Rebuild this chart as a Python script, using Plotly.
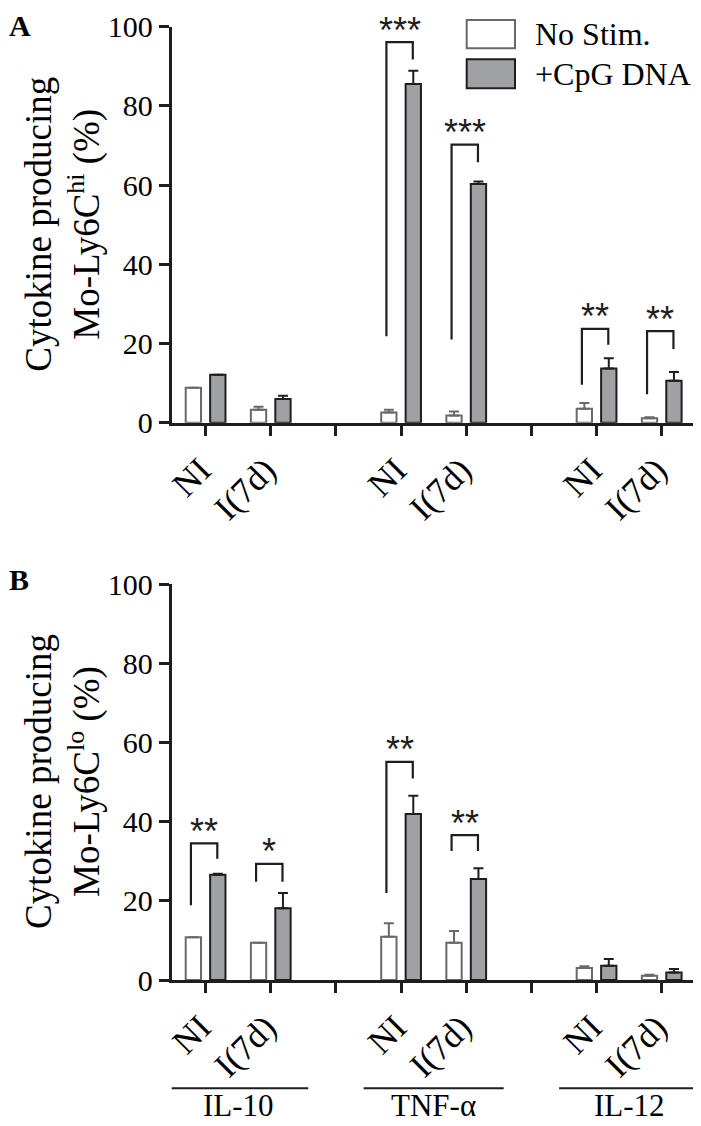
import plotly.graph_objects as go

# ---------------- data ----------------
groups = ["IL-10", "TNF-α", "IL-12"]
conditions = ["NI", "I(7d)"]
series_names = ["No Stim.", "+CpG DNA"]

# Panel A: Mo-Ly6C hi (order: IL-10 NI, IL-10 I(7d), TNF NI, TNF I(7d), IL-12 NI, IL-12 I(7d))
a_nostim = [8.8, 3.3, 2.6, 1.8, 3.5, 1.1]
a_nostim_err = [None, 0.7, 0.7, 1.0, 1.5, 0.3]
a_cpg = [12.1, 6.0, 85.5, 60.3, 13.7, 10.6]
a_cpg_err = [None, 0.8, 3.4, 0.6, 2.6, 2.2]

# Panel B: Mo-Ly6C lo
b_nostim = [10.8, 9.4, 10.9, 9.4, 3.0, 1.1]
b_nostim_err = [None, None, 3.4, 3.0, 0.5, 0.2]
b_cpg = [26.6, 18.1, 41.9, 25.5, 3.6, 1.9]
b_cpg_err = [0.2, 3.9, 4.6, 2.7, 1.7, 0.9]

y_ticks = [0, 20, 40, 60, 80, 100]

# significance: (group idx, condition idx, stars, left-leg bottom, top, right-leg bottom)
sig_a = [(1, 0, "***", 21.8, 96.1, 91.7), (1, 1, "***", 21.0, 70.2, 65.8),
         (2, 0, "**", 9.6, 23.7, 19.7), (2, 1, "**", 7.2, 23.1, 18.6)]
sig_b = [(0, 0, "**", 18.9, 34.5, 30.6), (0, 1, "*", 24.8, 29.3, 24.8),
         (1, 0, "**", 22.0, 55.1, 50.9), (1, 1, "**", 32.6, 36.6, 32.6)]

# ---------------- layout helpers ----------------
W, H = 701, 1126
PAGE_OFF = 8  # default page margin of the html body
SERIF = "Liberation Serif, Times New Roman, serif"
SANS = "Liberation Sans, Arial, sans-serif"
GRAY_FILL = "rgb(160,161,165)"
DARK = "rgb(30,30,30)"
WHITE_EDGE = "rgb(105,105,105)"


def px_x(p):
    return (p - PAGE_OFF) / W


def px_y(p):
    return 1 - (p - PAGE_OFF) / H


slots = [g * 3 + c + 1 for g in range(len(groups)) for c in range(len(conditions))]
slot_labels = [conditions[c] for g in range(len(groups)) for c in range(len(conditions))]
gap_ticks = [g * 3 + 3 for g in range(len(groups) - 1)]

BAR_W = 0.235
OFF_WHITE = -0.305
OFF_GRAY = 0.07
BR_L, BR_R = -0.225, 0.18

fig = go.Figure()

panels = [
    ("x", "y", a_nostim, a_nostim_err, a_cpg, a_cpg_err),
    ("x2", "y2", b_nostim, b_nostim_err, b_cpg, b_cpg_err),
]

for xa, ya, ns, nse, cp, cpe in panels:
    fig.add_trace(go.Bar(
        x=slots, y=ns, xaxis=xa, yaxis=ya, name=series_names[0], showlegend=False,
        width=BAR_W, offset=OFF_WHITE,
        marker=dict(color="white", line=dict(color=WHITE_EDGE, width=2)),
        error_y=dict(type="data", array=list(nse),
                     arrayminus=[0] * len(ns), symmetric=False,
                     color=WHITE_EDGE, thickness=2, width=5),
    ))
    fig.add_trace(go.Bar(
        x=slots, y=cp, xaxis=xa, yaxis=ya, name=series_names[1], showlegend=False,
        width=BAR_W, offset=OFF_GRAY,
        marker=dict(color=GRAY_FILL, line=dict(color=DARK, width=2)),
        error_y=dict(type="data", array=list(cpe),
                     arrayminus=[0] * len(cp), symmetric=False,
                     color=DARK, thickness=2, width=5),
    ))

shapes = []
annotations = []

for xa, ya, sig in [("x", "y", sig_a), ("x2", "y2", sig_b)]:
    for g, c, lab, lb, top, rb in sig:
        s = g * 3 + c + 1
        xl, xr = s + BR_L, s + BR_R
        shapes.append(dict(type="path", xref=xa, yref=ya,
                           path=f"M {xl},{lb} L {xl},{top} L {xr},{top} L {xr},{rb}",
                           line=dict(color=DARK, width=2.2)))
        annotations.append(dict(x=(xl + xr) / 2, y=top, xref=xa, yref=ya, text=lab,
                                showarrow=False, yanchor="middle", yshift=12,
                                font=dict(family=SANS, size=36, color=DARK)))

# group labels under panel B
for g, name in enumerate(groups):
    cx = g * 3 + 1.5
    shapes.append(dict(type="line", xref="x2", yref="paper",
                       x0=cx - 1.075, x1=cx + 1.075, y0=px_y(1088.3), y1=px_y(1088.3),
                       line=dict(color=DARK, width=2)))
    annotations.append(dict(x=cx, y=px_y(1125), xref="x2", yref="paper", text=name,
                            showarrow=False, yanchor="bottom", xanchor="center",
                            font=dict(family=SERIF, size=31, color="black")))

# y-axis titles
for yc, sup in [(224.7, "hi"), (782, "lo")]:
    annotations.append(dict(x=px_x(63), y=px_y(yc), xref="paper", yref="paper",
                            text=f"Cytokine producing<br>Mo-Ly6C<sup>{sup}</sup> (%)",
                            textangle=-90, showarrow=False,
                            xanchor="center", yanchor="middle",
                            font=dict(family=SERIF, size=37, color="black")))

# panel letters
annotations.append(dict(x=px_x(8), y=px_y(8), xref="paper", yref="paper", text="<b>A</b>",
                        showarrow=False, xanchor="left", yanchor="top", borderpad=0,
                        font=dict(family=SERIF, size=30, color="black")))
annotations.append(dict(x=px_x(8), y=px_y(562), xref="paper", yref="paper", text="<b>B</b>",
                        showarrow=False, xanchor="left", yanchor="top", borderpad=0,
                        font=dict(family=SERIF, size=30, color="black")))

# legend (drawn manually)
legend_rows = [(20, 48.3, "white", WHITE_EDGE), (59.3, 88.3, GRAY_FILL, DARK)]
for (y0, y1, fill, edge), name in zip(legend_rows, series_names):
    shapes.append(dict(type="rect", xref="paper", yref="paper",
                       x0=px_x(466.7), x1=px_x(515), y0=px_y(y1), y1=px_y(y0),
                       fillcolor=fill, line=dict(color=edge, width=2)))
    annotations.append(dict(x=px_x(533), y=px_y((y0 + y1) / 2), xref="paper", yref="paper",
                            text=name, showarrow=False, xanchor="left", yanchor="middle",
                            font=dict(family=SERIF, size=32, color="black")))

x_dom = [px_x(171.7), px_x(693)]
common_x = dict(range=[0.48, 8.48], tickvals=slots, ticktext=slot_labels, tickangle=-45,
                showline=True, linewidth=3, linecolor=DARK, ticks="outside", ticklen=10,
                tickwidth=3, tickcolor=DARK, showgrid=False, zeroline=False,
                tickfont=dict(family=SERIF, size=35, color="black"), domain=x_dom,
                ticklabelshift=-5,
                minor=dict(tickvals=gap_ticks, ticks="outside", ticklen=10, tickwidth=3,
                           tickcolor=DARK, showgrid=False),
                fixedrange=True, automargin=False)
common_y = dict(range=[0, 100], tickvals=y_ticks, showline=True, linewidth=3, linecolor=DARK,
                ticks="outside", ticklen=10, tickwidth=3, tickcolor=DARK, showgrid=False,
                zeroline=False, tickfont=dict(family=SERIF, size=30, color="black"),
                fixedrange=True, automargin=False)

fig.update_layout(
    width=W, height=H,
    margin=dict(l=0, r=0, t=0, b=0, autoexpand=False),
    paper_bgcolor="white", plot_bgcolor="white",
    showlegend=False,
    xaxis=dict(**common_x, anchor="y"),
    yaxis=dict(**common_y, anchor="x", domain=[px_y(422.7), px_y(26.7)]),
    xaxis2=dict(**common_x, anchor="y2"),
    yaxis2=dict(**common_y, anchor="x2", domain=[px_y(980), px_y(584)]),
    shapes=shapes,
    annotations=annotations,
)

fig.write_html("out.html")
